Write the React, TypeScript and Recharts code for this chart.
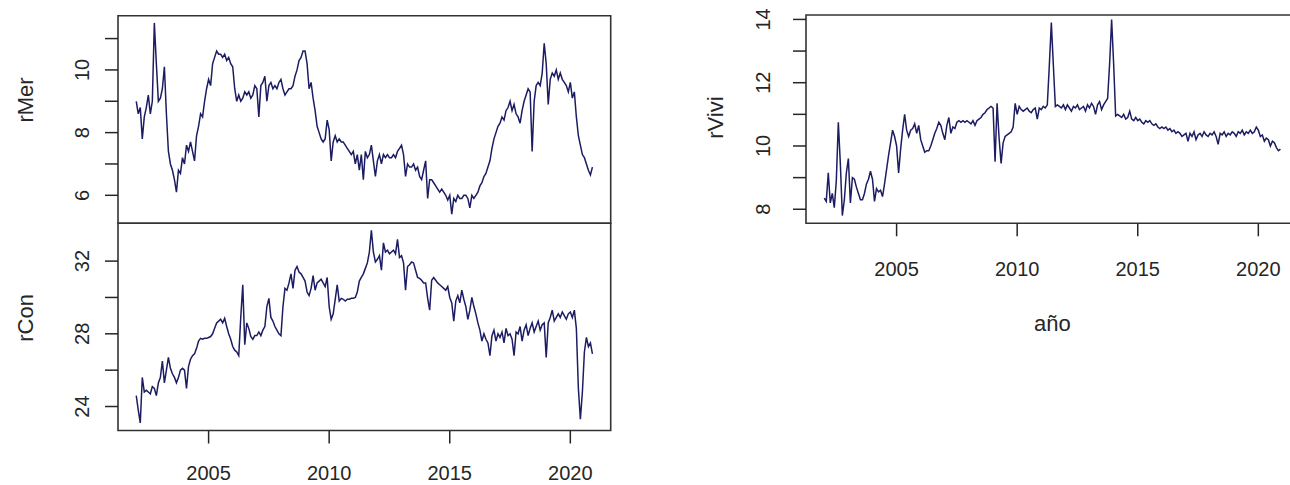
import { LineChart, Line, XAxis, YAxis, ReferenceArea, Label } from 'recharts'

// monthly series, January 2002 to December 2020
const START_YEAR = 2002

const rMer = [
  9.0, 8.6, 8.8, 7.8, 8.5, 8.8, 9.2, 8.6, 9.0, 11.5, 10.2, 9.0,
  9.1, 9.4, 10.1, 8.6, 7.4, 7.0, 6.8, 6.5, 6.1, 6.8, 6.7, 7.2,
  7.0, 7.6, 7.4, 7.7, 7.4, 7.1, 7.9, 8.2, 8.6, 8.5, 9.0, 9.4,
  9.7, 9.5, 10.2, 10.4, 10.6, 10.5, 10.5, 10.4, 10.5, 10.3, 10.4, 10.2,
  10.1, 9.4, 9.0, 9.2, 9.0, 9.1, 9.3, 9.2, 9.3, 9.1, 9.2, 9.5,
  9.4, 8.5, 9.5, 9.6, 9.8, 9.0, 9.5, 9.6, 9.4, 9.5, 9.4, 9.6,
  9.7, 9.4, 9.2, 9.3, 9.4, 9.4, 9.5, 9.8, 10.0, 10.3, 10.4, 10.6,
  10.6, 10.2, 9.4, 9.6, 9.1, 8.7, 8.2, 8.0, 7.8, 7.7, 7.8, 8.4,
  8.1, 7.1, 7.7, 7.9, 7.7, 7.8, 7.7, 7.7, 7.6, 7.5, 7.4, 7.3,
  7.4, 7.0, 7.3, 6.8, 7.3, 6.5, 7.4, 7.2, 7.3, 7.6, 7.1, 6.6,
  7.1, 7.3, 7.0, 7.3, 7.2, 7.3, 7.2, 7.2, 7.3, 7.2, 7.4, 7.5,
  7.6, 7.3, 6.6, 7.0, 6.9, 6.9, 7.0, 6.8, 6.9, 6.6, 6.5, 6.8,
  7.1, 5.9, 6.5, 6.5, 6.4, 6.3, 6.2, 6.1, 6.2, 6.1, 6.0, 5.85,
  6.0, 5.4, 5.9, 5.8, 6.0, 5.9, 5.9, 6.0, 6.0, 5.9, 5.6, 6.0,
  5.9, 6.0, 6.1, 6.3, 6.4, 6.6, 6.7, 6.9, 7.1, 7.5, 7.8, 8.0,
  8.2, 8.3, 8.5, 8.4, 8.7, 8.8, 9.0, 8.7, 8.9, 8.6, 8.5, 8.3,
  8.7, 9.0, 9.2, 9.4, 9.3, 7.4, 9.0, 9.5, 9.6, 9.5, 9.9, 10.85,
  10.2, 8.9, 9.7, 9.9, 9.8, 10.0, 9.7, 9.9, 9.7, 9.6, 9.5, 9.3,
  9.6, 9.1, 9.3, 8.5, 7.9, 7.6, 7.3, 7.2, 7.0, 6.8, 6.65, 6.9,
]

const rCon = [
  24.6, 23.8, 23.1, 25.6, 24.8, 24.9, 24.8, 24.7, 25.1, 25.0, 24.6, 25.3,
  25.6, 26.5, 25.3, 26.0, 26.7, 26.1, 25.8, 25.6, 25.3, 25.6, 26.0, 26.1,
  26.0, 25.0, 26.2, 26.6, 26.8, 26.9, 27.2, 27.6, 27.75, 27.7, 27.75, 27.75,
  27.8, 27.85, 28.0, 28.3, 28.6, 28.7, 28.8, 28.6, 28.85, 28.4, 28.0, 27.7,
  27.3, 27.1, 27.0, 26.8, 28.9, 30.7, 27.4, 28.6, 28.3, 27.85, 27.7, 27.9,
  27.9, 28.1, 27.9, 28.2, 28.4, 29.5, 29.95, 28.9, 28.7, 28.4, 28.2, 28.0,
  27.9, 29.5, 30.5, 30.4, 30.8, 31.3, 30.5, 31.5, 31.7, 31.4, 31.3, 31.1,
  30.9, 30.3, 30.1, 30.5, 31.2, 30.4, 30.8, 30.9, 31.0, 30.8, 30.6, 31.1,
  29.5, 28.8, 29.1, 29.9, 30.7, 29.8, 29.95, 29.9, 29.8, 29.9, 29.9, 29.95,
  29.95, 30.0, 30.3, 30.9, 31.1, 31.3, 31.6, 31.9, 32.5, 33.7, 32.5, 31.95,
  32.1, 32.3, 31.5, 33.0, 32.5, 32.6, 32.4, 32.5, 32.6, 32.4, 33.2, 32.2,
  32.3, 31.9, 30.4, 31.7, 31.8, 31.95, 31.9, 31.5, 31.1, 31.05, 30.95, 30.8,
  30.8, 29.95, 29.3, 30.95, 31.1, 30.95, 30.8, 30.7, 30.6, 30.5, 30.4, 30.6,
  30.0, 29.7, 28.7, 29.8, 30.1, 29.7, 30.4, 29.9, 29.5, 28.8, 29.3, 30.0,
  29.5, 29.1, 28.6, 28.2, 27.6, 28.0, 27.7, 27.5, 26.8, 27.9, 28.2, 27.6,
  28.0, 27.8, 28.1, 27.5, 28.3, 27.9, 28.0, 27.7, 26.8, 28.1, 28.0, 28.4,
  27.6, 28.2, 28.5, 27.9, 28.3, 28.6, 28.1, 28.4, 28.7, 28.2, 28.5, 28.6,
  26.7, 28.6, 28.9, 29.3, 28.7, 28.9, 29.1, 28.9, 29.2, 29.0, 28.8, 29.1,
  29.2, 28.9, 29.3, 28.3, 25.0, 23.3, 24.8, 27.0, 27.8, 27.3, 27.5, 26.9,
]

const rVivi = [
  8.35, 8.25, 9.15, 8.2, 8.5, 8.05, 8.9, 10.75, 9.45, 7.8, 8.3, 9.15,
  9.6, 8.2, 9.0, 8.95, 8.7, 8.5, 8.3, 8.3, 8.5, 8.8, 8.95, 9.2,
  8.95, 8.25, 8.65, 8.55, 8.6, 8.4, 8.8, 9.25, 9.7, 10.1, 10.5, 10.3,
  10.0, 9.15, 9.9, 10.5, 11.0, 10.5, 10.3, 10.5, 10.55, 10.7, 10.4, 10.65,
  10.2, 10.0, 9.8, 9.85, 9.85, 10.0, 10.2, 10.4, 10.55, 10.75, 10.65, 10.4,
  10.2, 10.65, 10.9, 10.4, 10.6, 10.55, 10.75, 10.8, 10.75, 10.8, 10.75, 10.8,
  10.75, 10.7, 10.8, 10.65, 10.8, 10.85, 10.9, 11.0, 11.05, 11.15, 11.2, 11.25,
  11.2, 9.5, 11.35, 10.25, 9.45, 10.1, 10.3, 10.35, 10.4, 10.45, 10.6, 11.35,
  11.0, 11.25, 11.15, 11.1, 11.15, 11.2, 11.1, 11.05, 11.15, 11.2, 10.85, 11.2,
  11.15, 11.25, 11.2, 11.3, 12.55, 13.9, 12.55, 11.25, 11.3, 11.25, 11.2, 11.3,
  11.15, 11.3, 11.2, 11.1, 11.25, 11.2, 11.3, 11.15, 11.2, 11.25, 11.1, 11.3,
  11.2, 11.35, 11.25, 11.0, 11.3, 11.4, 11.15, 11.3, 11.4, 11.5, 12.6, 14.0,
  12.6, 10.95, 11.0, 10.95, 10.9, 11.0, 10.85, 10.9, 11.1, 10.85, 10.8, 10.9,
  10.8, 10.85, 10.75, 10.7, 10.8, 10.75, 10.8, 10.7, 10.65, 10.7, 10.6, 10.55,
  10.6, 10.55, 10.6, 10.5, 10.55, 10.45, 10.5, 10.4, 10.45, 10.4, 10.3, 10.35,
  10.4, 10.15, 10.4, 10.3, 10.45, 10.2, 10.35, 10.4, 10.3, 10.45, 10.35, 10.3,
  10.4, 10.35, 10.45, 10.3, 10.05, 10.4, 10.35, 10.45, 10.3, 10.4, 10.35, 10.45,
  10.4, 10.3, 10.45, 10.4, 10.5, 10.35, 10.45, 10.4, 10.5, 10.4, 10.45, 10.6,
  10.5, 10.3, 10.35, 10.15, 10.25, 10.2, 10.0, 10.15, 10.1, 9.95, 9.85, 9.9,
]

const yearTicks = [2005, 2010, 2015, 2020]
const rMerTicks = [6, 7, 8, 9, 10, 11]
const rMerLabels = [6, 8, 10]
const rConTicks = [24, 26, 28, 30, 32]
const rConLabels = [24, 28, 32]
const rViviTicks = [8, 9, 10, 11, 12, 13, 14]
const rViviLabels = [8, 10, 12, 14]

const X_DOMAIN: [number, number] = [2001.243, 2021.674]

const FONT = '"Liberation Sans", Arial, sans-serif'
const INK = '#262626'
const LINE = '#1c1c62'
const BOX = '#333333'

const toRows = (values: number[]) =>
  values.map((v, i) => ({ t: START_YEAR + i / 12, v }))

// y tick labels are drawn parallel to the axis, like base R graphics
function RotatedTick(props: any) {
  const { x, y, payload, labels, shift } = props
  if (!labels.includes(payload.value)) return null
  const bx = x - shift
  return (
    <text
      x={bx}
      y={y}
      transform={`rotate(-90 ${bx} ${y})`}
      textAnchor="middle"
      fontSize={20}
      fontFamily={FONT}
      fill={INK}
    >
      {payload.value}
    </text>
  )
}

function SideTitle(props: any) {
  const { viewBox, text, baseX, dy } = props
  const vb = viewBox ?? { x: 0, y: 0, width: 0, height: 0 }
  const bx = vb.x + baseX
  const cy = vb.y + vb.height / 2 + dy
  return (
    <text
      x={bx}
      y={cy}
      transform={`rotate(-90 ${bx} ${cy})`}
      textAnchor="middle"
      fontSize={22}
      fontFamily={FONT}
      fill={INK}
    >
      {text}
    </text>
  )
}

function BottomTitle(props: any) {
  const { viewBox, text, baseY } = props
  const vb = viewBox ?? { x: 0, y: 0, width: 0, height: 0 }
  return (
    <text
      x={vb.x + vb.width / 2}
      y={vb.y + baseY}
      textAnchor="middle"
      fontSize={22}
      fontFamily={FONT}
      fill={INK}
    >
      {text}
    </text>
  )
}

interface PanelProps {
  values: number[]
  yDomain: [number, number]
  yTicks: number[]
  yLabels: number[]
  title: string
  left: number
  width: number
  height: number
  margin: { top: number; right: number; bottom: number; left: number }
  yAxisWidth: number
  xAxisHeight?: number
  xTickMargin?: number
  tickShift: number
  titleX: number
  titleDy: number
  xTitle?: string
  xTitleY?: number
}

function Panel(p: PanelProps) {
  const showX = !!p.xAxisHeight
  return (
    <div style={{ position: 'absolute', left: p.left, top: 0 }}>
      <LineChart width={p.width} height={p.height} data={toRows(p.values)} margin={p.margin}>
        <XAxis
          dataKey="t"
          type="number"
          domain={X_DOMAIN}
          allowDataOverflow
          ticks={yearTicks}
          interval={0}
          hide={!showX}
          height={p.xAxisHeight}
          axisLine={false}
          tickSize={13}
          tickMargin={p.xTickMargin ?? 25}
          tickLine={{ stroke: INK, strokeWidth: 1.5 }}
          tick={{ fontSize: 20, fontFamily: FONT, fill: INK }}
        >
          {p.xTitle && (
            <Label
              content={(lp: any) => <BottomTitle {...lp} text={p.xTitle} baseY={p.xTitleY} />}
            />
          )}
        </XAxis>
        <YAxis
          type="number"
          domain={p.yDomain}
          allowDataOverflow
          ticks={p.yTicks}
          interval={0}
          width={p.yAxisWidth}
          axisLine={false}
          tickSize={13}
          tickMargin={0}
          tickLine={{ stroke: INK, strokeWidth: 1.5 }}
          tick={(tp: any) => <RotatedTick {...tp} labels={p.yLabels} shift={p.tickShift} />}
        >
          <Label
            content={(lp: any) => (
              <SideTitle {...lp} text={p.title} baseX={p.titleX} dy={p.titleDy} />
            )}
          />
        </YAxis>
        <Line
          type="linear"
          dataKey="v"
          stroke={LINE}
          strokeWidth={1.5}
          dot={false}
          isAnimationActive={false}
        />
        <ReferenceArea
          x1={X_DOMAIN[0]}
          x2={X_DOMAIN[1]}
          y1={p.yDomain[0]}
          y2={p.yDomain[1]}
          fill="none"
          stroke={BOX}
          strokeWidth={1.6}
          ifOverflow="visible"
        />
      </LineChart>
    </div>
  )
}

export default function App() {
  return (
    <div
      style={{
        position: 'absolute',
        left: 0,
        top: 0,
        width: 1290,
        height: 485,
        overflow: 'hidden',
        background: '#ffffff',
      }}
    >
      <Panel
        values={rMer}
        yDomain={[5.107, 11.73]}
        yTicks={rMerTicks}
        yLabels={rMerLabels}
        title="rMer"
        left={0}
        width={640}
        height={240}
        margin={{ top: 15.7, right: 29.3, bottom: 16.7, left: 0 }}
        yAxisWidth={118}
        tickShift={16.3}
        titleX={33.3}
        titleDy={-19.5}
      />
      <Panel
        values={rCon}
        yDomain={[22.68, 34.08]}
        yTicks={rConTicks}
        yLabels={rConLabels}
        title="rCon"
        left={0}
        width={640}
        height={485}
        margin={{ top: 223.3, right: 29.3, bottom: 0, left: 0 }}
        yAxisWidth={118}
        xAxisHeight={54.5}
        xTickMargin={22.5}
        tickShift={16.3}
        titleX={33.3}
        titleDy={-9}
      />
      <Panel
        values={rVivi}
        yDomain={[7.556, 14.14]}
        yTicks={rViviTicks}
        yLabels={rViviLabels}
        title="rVivi"
        left={680}
        width={640}
        height={485}
        margin={{ top: 15, right: 21.3, bottom: 0, left: 0 }}
        yAxisWidth={126}
        xAxisHeight={261.7}
        tickShift={23.1}
        titleX={43.3}
        titleDy={-1.5}
        xTitle="año"
        xTitleY={107.7}
      />
    </div>
  )
}
